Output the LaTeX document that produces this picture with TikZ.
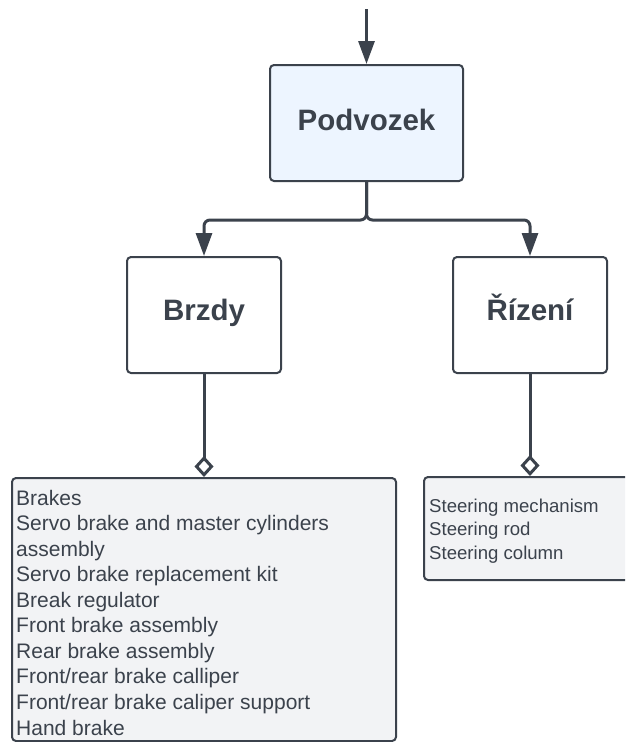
\documentclass[tikz,border=0pt]{standalone}
\usepackage{fontspec}
\setmainfont{Liberation Sans}
\usetikzlibrary{arrows.meta}

\definecolor{ink}{HTML}{3B424C}
\definecolor{headfill}{HTML}{EDF5FF}
\definecolor{listfill}{HTML}{F2F3F5}

\tikzset{
  box/.style={draw=ink, line width=2pt, rounded corners=4pt, inner sep=0pt},
  title/.style={text=ink, font=\fontsize{29.5}{35}\selectfont\bfseries, inner sep=0pt},
  biglist/.style={text=ink, font=\fontsize{21}{25.55}\selectfont, align=left, inner sep=0pt, anchor=north west},
  smalllist/.style={text=ink, font=\fontsize{18.6}{23.5}\selectfont, align=left, inner sep=0pt, anchor=north west},
  conn/.style={draw=ink, line width=3pt},
  flow/.style={conn, -{Triangle[length=23pt,width=16pt]}},
  part/.style={conn, -{Diamond[length=21pt,width=19pt,fill=white]}}
}

\begin{document}
\begin{tikzpicture}[x=1pt,y=-1pt]
  \clip (0,0) rectangle (625,742);
  \fill[white] (0,0) rectangle (625,742);

  % main boxes
  \node[box, fill=headfill, minimum width=193pt, minimum height=116pt] (podvozek) at (366.5,123) {};
  \node[box, fill=white, minimum width=154pt, minimum height=116pt] (brzdy) at (204,315) {};
  \node[box, fill=white, minimum width=154pt, minimum height=116pt] (rizeni) at (530,315) {};

  % lists of parts
  \node[box, fill=listfill, minimum width=384pt, minimum height=263pt] (brakes) at (204,609.5) {};
  \node[box, fill=listfill, minimum width=206pt, minimum height=103pt] (steering) at (527,528.5) {};

  % titles
  \node[title, anchor=base] (podvozek-t) at ([yshift=-7pt]podvozek.center) {Podvozek};
  \node[title, anchor=base] (brzdy-t) at ([yshift=-5pt]brzdy.center) {Brzdy};
  \node[title, anchor=base] (rizeni-t) at ([yshift=-5pt]rizeni.center) {Řízení};

  \node[biglist] (brakes-t) at (16,489.7) {Brakes\\
    Servo brake and master cylinders\\
    assembly\\
    Servo brake replacement kit\\
    Break regulator\\
    Front brake assembly\\
    Rear brake assembly\\
    Front/rear brake calliper\\
    Front/rear brake caliper support\\
    Hand brake};

  \node[smalllist] (steering-t) at (429,498.4) {Steering mechanism\\
    Steering rod\\
    Steering column};

  % connectors
  \coordinate (entry) at (366.5,9);
  \draw[flow] (entry) -- (podvozek.north);
  \draw[flow, rounded corners=6pt] (podvozek.south) -- ++(0,38) -| (brzdy.north);
  \draw[flow, rounded corners=6pt] (podvozek.south) -- ++(0,38) -| (rizeni.north);
  \draw[part] (brzdy.south) -- (brzdy.south |- brakes.north);
  \draw[part] (rizeni.south) -- (rizeni.south |- steering.north);
\end{tikzpicture}
\end{document}
